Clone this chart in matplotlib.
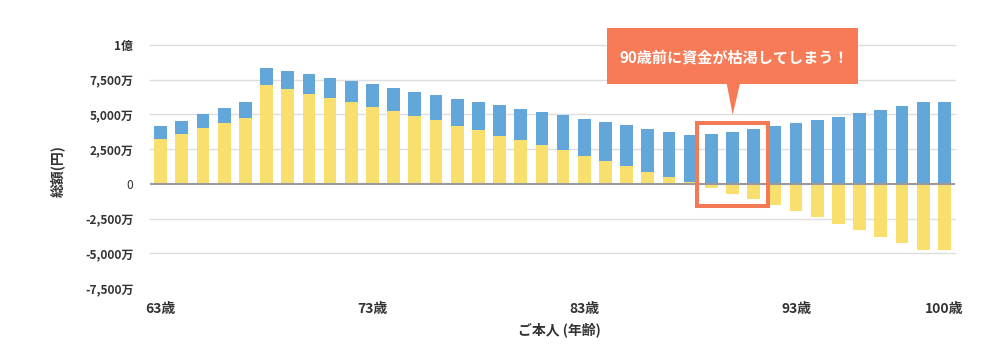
import numpy as np
import matplotlib
matplotlib.use("Agg")
import matplotlib.pyplot as plt
from matplotlib.patches import Rectangle, Polygon

plt.rcParams['font.family'] = ['Noto Sans CJK JP', 'DejaVu Sans']

# ---- data (単位: 万円) ----
ages = list(range(63, 101))
yellow = [3220, 3560, 3990, 4400, 4710, 7120, 6800, 6490, 6200, 5890,
          5505, 5240, 4880, 4567, 4183, 3870, 3462, 3149, 2788, 2404,
          2010, 1680, 1270, 880, 500, 110, -267, -704, -1116, -1553,
          -1960, -2420, -2880, -3315, -3800, -4283, -4743, -4743]
blue = [914, 986, 1058, 1082, 1178, 1250, 1298, 1394, 1395, 1490,
        1659, 1682, 1755, 1851, 1947, 2043, 2235, 2236, 2380, 2572,
        2690, 2780, 2960, 3070, 3220, 3395, 3568, 3738, 3956, 4150,
        4356, 4574, 4792, 5082, 5324, 5614, 5881, 5881]
yticks = [10000, 7500, 5000, 2500, 0, -2500, -5000, -7500]
yticklabels = ['1億', '7,500万', '5,000万', '2,500万', '0', '-2,500万', '-5,000万', '-7,500万']
xtick_ages = [63, 73, 83, 93, 100]
callout_text = '90歳前に資金が枯渇してしまう！'

W, H = 999, 348
fig = plt.figure(figsize=(W / 100, H / 100), dpi=100)
fig.patch.set_facecolor('white')

def fx(px):
    return px / W

def fy(py):
    return 1 - py / H

ax = fig.add_axes([fx(150), fy(288), fx(955) - fx(150), fy(45) - fy(288)])

x = np.arange(len(ages))
yellow_arr = np.array(yellow)
blue_bottom = np.maximum(yellow_arr, 0)

YEL = '#F9DF6E'
BLU = '#63A6DA'

for g in [10000, 7500, 5000, 2500, -2500, -5000]:
    ax.axhline(g, color='#DEDEDE', lw=1.0, zorder=0, clip_on=False)

ax.bar(x, yellow_arr, width=0.6, color=YEL, zorder=2, linewidth=0)
ax.bar(x, blue, width=0.6, bottom=blue_bottom, color=BLU, zorder=2, linewidth=0)
ax.axhline(0, color='#9A9A9A', lw=1.5, zorder=3)

ax.set_xlim(-0.5, len(ages) - 0.5)
ax.set_ylim(-7500, 10000)
for s in ax.spines.values():
    s.set_visible(False)

ax.set_yticks(yticks)
ax.set_yticklabels(yticklabels, fontsize=8.6, color='#333333', fontweight='bold')
ax.get_yticklabels()[4].set_fontweight('normal')
ax.set_xticks([ages.index(a) for a in xtick_ages])
ax.set_xticklabels([f'{a}歳' for a in xtick_ages], fontsize=10, fontweight='bold', color='#333333')
ax.tick_params(axis='both', length=0)
ax.tick_params(axis='y', pad=12)
ax.tick_params(axis='x', pad=10)

fig.text(fx(559.5), fy(330), 'ご本人 (年齢)', fontsize=10, color='#333333',
         ha='center', va='center', fontweight='bold')
fig.text(fx(58), fy(171), '総額(円)', fontsize=10, color='#333333',
         ha='center', va='center', rotation=90, fontweight='bold')

# highlight box around bars (ages 89-91)
i0 = ages.index(89) - 0.69
i1 = ages.index(91) + 0.66
ax.add_patch(Rectangle((i0, -1566), i1 - i0, 4383 + 1566, fill=False,
                       edgecolor='#F47A56', lw=2.9, zorder=5, clip_on=False))

# callout
ORG = '#F67B56'
fig.patches.append(Rectangle((fx(607.3), fy(84)), fx(858.3) - fx(607.3), fy(27.7) - fy(84),
                             transform=fig.transFigure, facecolor=ORG, edgecolor='none', zorder=6))
fig.patches.append(Polygon([(fx(726.7), fy(83.5)), (fx(740), fy(83.5)), (fx(732.7), fy(115))],
                           closed=True, transform=fig.transFigure, facecolor=ORG,
                           edgecolor='none', zorder=6))
fig.text(fx(734.5), fy(57.5), callout_text, fontsize=10.9, color='white',
         fontweight='bold', ha='center', va='center', zorder=7)

fig.savefig('out.png', dpi=100)
